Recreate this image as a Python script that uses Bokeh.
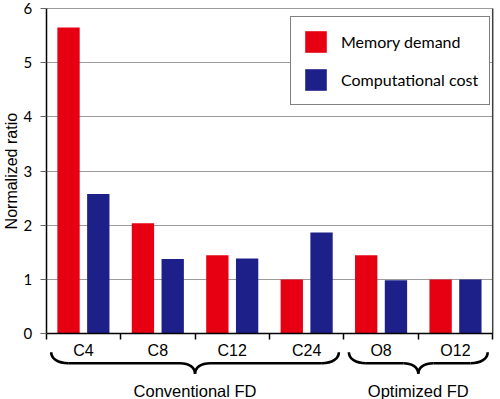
import numpy as np
from bokeh.plotting import figure
from bokeh.models import (ColumnDataSource, LinearAxis, FixedTicker, Range1d, Legend,
                          LegendItem, Grid)
from bokeh.core.properties import value
from bokeh.embed import file_html
from bokeh.resources import INLINE

# ---------------- data ----------------
categories = ["C4", "C8", "C12", "C24", "O8", "O12"]
memory_demand = [5.65, 2.04, 1.45, 1.00, 1.45, 1.00]
computational_cost = [2.58, 1.38, 1.39, 1.87, 0.99, 1.00]
group_names = ["Conventional FD", "Optimized FD"]
group_first = [0, 4]      # index of first category in group
group_last = [3, 5]       # index of last category in group
y_ticks = [0, 1, 2, 3, 4, 5, 6]
series_names = ["Memory demand", "Computational cost"]
y_title = "Normalized ratio"

# ---------------- style / layout ----------------
RED = "#E60012"
BLUE = "#1C2088"
W, H = 500, 399
n = len(categories)
# pixel geometry of the plotting area inside the canvas
X0_PX, X1_PX = 45.7, 492.2      # screen x of category edges 0 and n
Y0_PX, Y1_PX = 333.3, 8.0       # screen y of y_ticks[0] and y_ticks[-1]
xs_px = (X1_PX - X0_PX) / n
ys_px = (Y0_PX - Y1_PX) / (y_ticks[-1] - y_ticks[0])
x_start = -X0_PX / xs_px
x_end = n + (W - X1_PX) / xs_px
y_end = y_ticks[-1] + Y1_PX / ys_px
y_start = y_ticks[0] - (H - Y0_PX) / ys_px

p = figure(width=W, height=H, output_backend="svg", toolbar_location=None,
           x_range=Range1d(x_start, x_end), y_range=Range1d(y_start, y_end),
           x_axis_type=None, y_axis_type=None,
           min_border_left=0, min_border_right=0, min_border_top=0, min_border_bottom=0)
p.outline_line_color = None
p.background_fill_color = "white"

def px_x(px):
    return px / xs_px

def px_y(px):
    return -px / ys_px

idx = np.arange(n)
centers = idx + 0.5
bar_w = 0.3
off = 0.2

src = ColumnDataSource(dict(
    xm=centers - off, xc=centers + off,
    mem=memory_demand, cost=computational_cost))

# horizontal grid lines between axis and right border
grid_kw = dict(dimension=1, ticker=FixedTicker(ticks=y_ticks[1:]),
               grid_line_color="#9C9C9C", grid_line_width=1)
if "cross_bounds" in Grid.properties():
    grid_kw["cross_bounds"] = (0, n)
    p.add_layout(Grid(**grid_kw))
else:
    p.segment(x0=[0] * (len(y_ticks) - 1), x1=[n] * (len(y_ticks) - 1),
              y0=y_ticks[1:], y1=y_ticks[1:], line_color="#9C9C9C", line_width=1)

r1 = p.vbar(x="xm", top="mem", bottom=0, width=bar_w, source=src,
            fill_color=RED, line_color=None)
r2 = p.vbar(x="xc", top="cost", bottom=0, width=bar_w, source=src,
            fill_color=BLUE, line_color=None)

# right border of plotting area
p.segment(x0=[n], y0=[y_ticks[0]], x1=[n], y1=[y_ticks[-1]],
          line_color="#404040", line_width=1.5)

# y axis at x = 0
yaxis = LinearAxis(fixed_location=0, ticker=FixedTicker(ticks=y_ticks, minor_ticks=[]),
                   bounds=(y_ticks[0], y_ticks[-1]),
                   major_tick_out=6, major_tick_in=0, minor_tick_out=0, minor_tick_in=0,
                   major_label_standoff=8,
                   major_label_text_font="Lato", major_label_text_font_size="15px",
                   major_label_text_color="black",
                   axis_line_color="black", axis_line_width=1.5,
                   major_tick_line_color="#666666")
p.add_layout(yaxis, "left")

# x axis at y = 0
xaxis = LinearAxis(fixed_location=0, bounds=(0, n),
                   ticker=FixedTicker(ticks=list(centers), minor_ticks=list(range(n + 1))),
                   major_label_overrides={float(c): lab for c, lab in zip(centers, categories)},
                   major_tick_out=0, major_tick_in=0, minor_tick_out=6, minor_tick_in=0,
                   major_label_standoff=2,
                   major_label_text_font="Liberation Sans", major_label_text_font_size="16px",
                   major_label_text_color="black",
                   axis_line_color="black", axis_line_width=1.5,
                   minor_tick_line_color="black", minor_tick_line_width=1.5)
p.add_layout(xaxis, "below")

# y axis title
p.text(x=[px_x(11 - X0_PX)], y=[(y_ticks[0] + y_ticks[-1]) / 2], text=[y_title],
       angle=np.pi / 2, text_align="center", text_baseline="middle",
       text_font=value("Liberation Sans"), text_font_size="16px", text_color="black")

# braces under groups
yb_end = px_y(18.4)
yb_mid = px_y(29.4)
yb_tip = px_y(40.0)
r_end = px_x(17)
r_tip = px_x(15)
inset = px_x(5)

bz = dict(x0=[], y0=[], x1=[], y1=[], cx0=[], cy0=[], cx1=[], cy1=[])
seg = dict(x0=[], y0=[], x1=[], y1=[])

def add_bz(*vals):
    for k, v in zip(["x0", "y0", "x1", "y1", "cx0", "cy0", "cx1", "cy1"], vals):
        bz[k].append(v)

gcenters = []
for a_i, b_i in zip(group_first, group_last):
    a, b = a_i, b_i + 1
    xl, xr, xc = a + inset, b - inset, (a + b) / 2
    gcenters.append(xc)
    dv = yb_mid - yb_end
    dt = yb_tip - yb_mid
    add_bz(xl, yb_end, xl + r_end, yb_mid, xl, yb_end + dv * 0.6, xl + r_end * 0.4, yb_mid)
    add_bz(xr, yb_end, xr - r_end, yb_mid, xr, yb_end + dv * 0.6, xr - r_end * 0.4, yb_mid)
    add_bz(xc - r_tip, yb_mid, xc, yb_tip, xc - r_tip * 0.4, yb_mid, xc, yb_mid + dt * 0.4)
    add_bz(xc + r_tip, yb_mid, xc, yb_tip, xc + r_tip * 0.4, yb_mid, xc, yb_mid + dt * 0.4)
    seg["x0"] += [xl + r_end, xc + r_tip]
    seg["x1"] += [xc - r_tip, xr - r_end]
    seg["y0"] += [yb_mid, yb_mid]
    seg["y1"] += [yb_mid, yb_mid]

p.bezier(source=ColumnDataSource(bz), x0="x0", y0="y0", x1="x1", y1="y1",
         cx0="cx0", cy0="cy0", cx1="cx1", cy1="cy1", line_color="black", line_width=2.6)
p.segment(source=ColumnDataSource(seg), x0="x0", y0="y0", x1="x1", y1="y1",
          line_color="black", line_width=2.6)

p.text(x=gcenters, y=[px_y(57.5)] * len(gcenters), text=group_names,
       text_align="center", text_baseline="alphabetic",
       text_font=value("Liberation Sans"), text_font_size="16.5px", text_color="black")

# legend
legend = Legend(items=[LegendItem(label=series_names[0], renderers=[r1]),
                       LegendItem(label=series_names[1], renderers=[r2])],
                location=(290, 294), glyph_width=27, glyph_height=27,
                label_standoff=12, spacing=11, padding=11, margin=0,
                border_line_color="black", border_line_width=1,
                label_text_font="Lato", label_text_font_size="16px",
                label_text_color="black", background_fill_alpha=1.0)
p.add_layout(legend)

open("out.html", "w").write(file_html(p, INLINE))
